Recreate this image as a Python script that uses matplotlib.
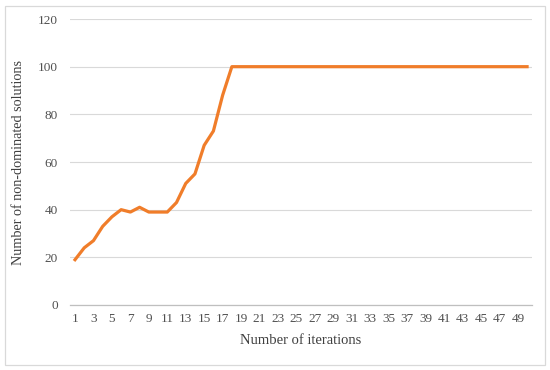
import matplotlib
matplotlib.use("Agg")
import matplotlib.pyplot as plt
from matplotlib.patches import Rectangle

iterations = list(range(1, 51))
solutions = [19, 24, 27, 33, 37, 40, 39, 41, 39, 39, 39, 43, 51, 55, 67, 73, 88, 100] + [100] * 32
y_ticks = [0, 20, 40, 60, 80, 100, 120]
x_tick_labels = [str(i) for i in range(1, 51, 2)]

plt.rcParams['font.family'] = ['Liberation Serif', 'DejaVu Serif']

fig = plt.figure(figsize=(5.5, 3.7), dpi=100)
ax = fig.add_axes([0.128, 0.1757, 0.8387, 0.7729])

ax.plot(iterations, solutions, color='#F07D2A', linewidth=2.3, solid_joinstyle='round')

ax.set_xlim(0.5, 50.5)
ax.set_ylim(0, 120)
ax.set_yticks(y_ticks)
ax.set_xticks(list(range(1, 51, 2)))
ax.set_xticklabels(x_tick_labels)
ax.grid(axis='y', color='#D9D9D9', linewidth=0.8)
ax.set_axisbelow(True)
for s in ['top', 'right', 'left']:
    ax.spines[s].set_visible(False)
ax.spines['bottom'].set_color('#BFBFBF')
ax.spines['bottom'].set_linewidth(0.9)
ax.tick_params(axis='both', length=0, colors='#505050', labelsize=9.5)
ax.tick_params(axis='x', pad=6)
ax.tick_params(axis='y', pad=9)

ax.set_xlabel('Number of iterations', fontsize=10.5, color='#404040', labelpad=6)
ax.set_ylabel('Number of non-dominated solutions', fontsize=10.2, color='#404040', labelpad=9)

fig.patches.append(Rectangle((5/550, 5/370), 540/550, 359/370, transform=fig.transFigure,
                             fill=False, edgecolor='#D9D9D9', linewidth=0.9))

fig.savefig('out.png', dpi=100)
